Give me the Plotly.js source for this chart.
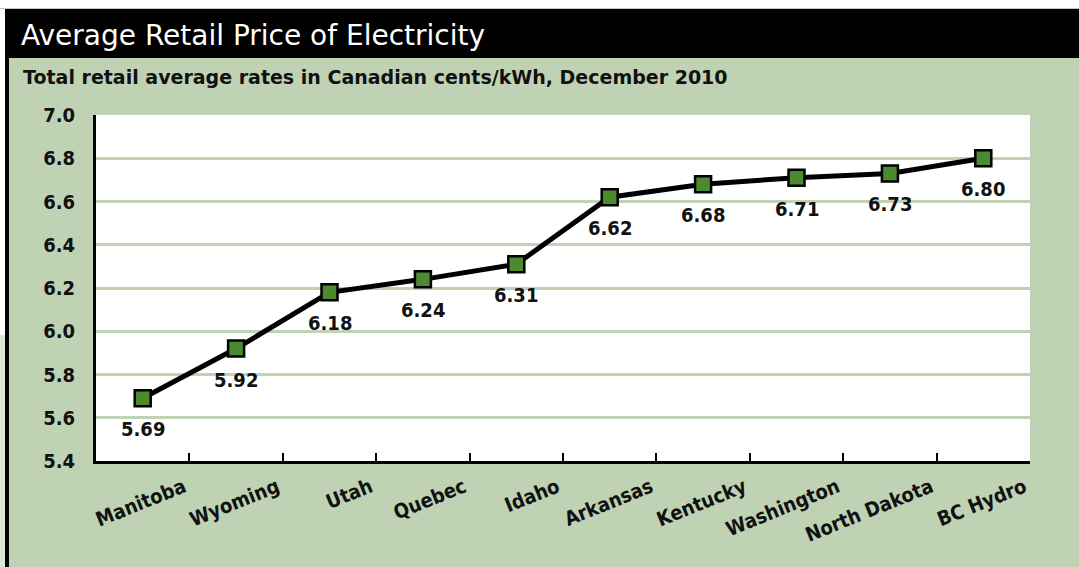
<!DOCTYPE html>
<html><head><meta charset="utf-8">
<script src="https://cdn.plot.ly/plotly-3.0.1.min.js"></script>
<style>html,body{margin:0;padding:0;background:#fff;}#chart{width:1079px;height:567px;}</style>
</head><body><div id="chart"></div>
<script>
const categories = ["Manitoba","Wyoming","Utah","Quebec","Idaho","Arkansas","Kentucky","Washington","North Dakota","BC Hydro"];
const prices = [5.69,5.92,6.18,6.24,6.31,6.62,6.68,6.71,6.73,6.80];
const yTicks = [5.4,5.6,5.8,6.0,6.2,6.4,6.6,6.8,7.0];
const titleText = "Average Retail Price of Electricity";
const subtitleText = "Total retail average rates in Canadian cents/kWh, December 2010";

const W = 1079, H = 567, L = 96, R = 1030, T = 115, B = 461;
const px = x => (x - L) / (R - L);
const py = y => (B - y) / (B - T);
const green = "#bfd3b4";
const FONT = "'DejaVu Sans Condensed', 'DejaVu Sans', sans-serif";
const WIDE = "'DejaVu Sans', sans-serif";

const trace = {
  x: categories, y: prices, type: "scatter", mode: "lines+markers",
  line: {color: "#000", width: 5},
  marker: {symbol: "square", size: 16, color: "#4b8a2f", line: {color: "#000", width: 2.5}},
  hoverinfo: "skip"
};

const annotations = categories.map((c, i) => ({
  x: c, y: prices[i], xref: "x", yref: "y", text: prices[i].toFixed(2),
  showarrow: false, yshift: -31, font: {family: FONT, size: 20, color: "#111", weight: 700}
}));
annotations.push({
  xref: "paper", yref: "paper", x: px(21), y: py(77), xanchor: "left", yanchor: "middle",
  text: subtitleText, showarrow: false, font: {family: WIDE, size: 19, color: "#111", weight: 700}
});

const shapes = [
  {type: "rect", xref: "paper", yref: "paper", x0: px(0), x1: px(W), y0: py(9), y1: py(0), fillcolor: "#fff", line: {width: 0}, layer: "below"},
  {type: "line", xref: "paper", yref: "paper", x0: px(0), x1: px(W), y0: py(9), y1: py(9), line: {color: "#888", width: 1}, layer: "below"},
  {type: "rect", xref: "paper", yref: "paper", x0: px(5), x1: px(W), y0: py(58), y1: py(9), fillcolor: "#000", line: {width: 0}, layer: "below"},
  {type: "rect", xref: "paper", yref: "paper", x0: px(0), x1: px(5), y0: py(H), y1: py(9), fillcolor: "#fff", line: {width: 0}, layer: "below"},
  {type: "rect", xref: "paper", yref: "paper", x0: px(0), x1: px(5), y0: py(H), y1: py(335), fillcolor: "#dce6d6", line: {width: 0}, layer: "below"},
  {type: "rect", xref: "paper", yref: "paper", x0: px(5), x1: px(9), y0: py(H), y1: py(58), fillcolor: "#000", line: {width: 0}, layer: "below"}
];

const layout = {
  width: W, height: H,
  margin: {l: L, r: W - R, t: T, b: H - B, pad: 0, autoexpand: false},
  paper_bgcolor: green, plot_bgcolor: "#fff",
  showlegend: false,
  title: {text: titleText, xref: "container", yref: "container", x: 21 / W, y: 1 - 35 / H,
          xanchor: "left", yanchor: "middle", font: {family: WIDE, size: 28, color: "#fff", weight: 400}},
  xaxis: {
    type: "category", range: [-0.5, categories.length - 0.5], autorange: false,
    tickangle: -22, tickson: "boundaries", ticks: "inside", ticklen: 8, tickwidth: 2, tickcolor: "#000",
    showline: true, linecolor: "#000", linewidth: 3, showgrid: false, zeroline: false,
    ticklabelshift: 41, ticklabelstandoff: 4, automargin: false,
    tickfont: {family: FONT, size: 20, color: "#111", weight: 700}, fixedrange: true
  },
  yaxis: {
    range: [5.4, 7.0], autorange: false, tickvals: yTicks, ticktext: yTicks.map(v => v.toFixed(1)),
    showline: true, linecolor: "#000", linewidth: 3, ticks: "", ticklabelstandoff: 14, automargin: false,
    showgrid: true, gridcolor: green, gridwidth: 3, zeroline: false,
    tickfont: {family: FONT, size: 20, color: "#111", weight: 700}, fixedrange: true
  },
  annotations: annotations,
  shapes: shapes
};

Plotly.newPlot("chart", [trace], layout, {displayModeBar: false, staticPlot: true});
</script></body></html>
